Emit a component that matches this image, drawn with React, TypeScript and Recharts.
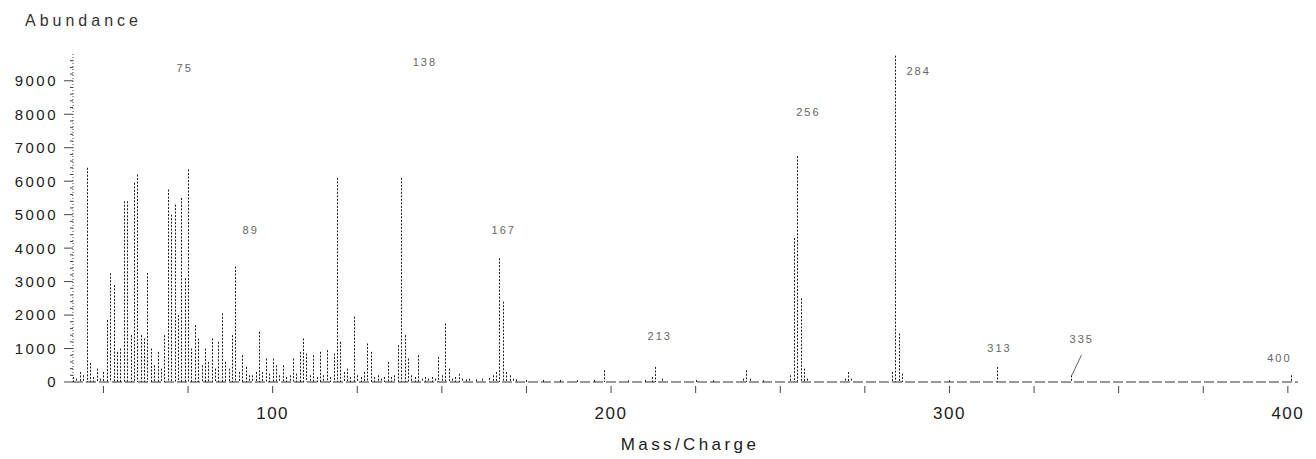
import React from 'react'
import { ComposedChart, Bar, Scatter, XAxis, YAxis } from 'recharts'

const massCharge = [
  41, 42, 43, 44, 45, 46, 47, 48, 49, 50, 51, 52, 53, 54, 55, 56, 57, 58, 59, 60,
  61, 62, 63, 64, 65, 66, 67, 68, 69, 70, 71, 72, 73, 74, 75, 76, 77, 78, 79, 80,
  81, 82, 83, 84, 85, 86, 87, 88, 89, 90, 91, 92, 93, 94, 95, 96, 97, 98, 99, 100,
  101, 102, 103, 104, 105, 106, 107, 108, 109, 110, 111, 112, 113, 114, 115, 116, 117, 118, 119, 120,
  121, 122, 123, 124, 125, 126, 127, 128, 129, 130, 131, 132, 133, 134, 135, 136, 137, 138, 139, 140,
  141, 142, 143, 144, 145, 146, 147, 148, 149, 150, 151, 152, 153, 154, 155, 156, 157, 158, 160, 162,
  164, 165, 166, 167, 168, 169, 170, 171, 172, 175, 180, 185, 190, 195, 198, 205, 210, 212, 213, 215,
  225, 230, 239, 240, 241, 245, 253, 254, 255, 256, 257, 258, 269, 270, 271, 283, 284, 285, 286, 300,
  314, 336, 401,
]
const abundance = [
  150, 100, 300, 200, 6400, 570, 150, 400, 100, 300, 1850, 3250, 2900, 900, 1000, 5400, 5400, 1400, 5950, 6200,
  1400, 1300, 3260, 1000, 500, 900, 400, 1400, 5750, 5000, 5300, 2000, 5500, 3100, 6350, 1000, 1700, 1300, 500, 1000,
  600, 1300, 400, 1200, 2050, 600, 400, 1400, 3450, 300, 800, 450, 200, 200, 300, 1500, 300, 700, 250, 700,
  500, 200, 500, 150, 200, 700, 250, 900, 1300, 850, 200, 800, 150, 900, 200, 950, 150, 850, 6100, 1200,
  300, 400, 150, 1950, 200, 150, 300, 1150, 900, 150, 200, 100, 150, 600, 150, 200, 1100, 6100, 1400, 700,
  200, 150, 800, 100, 150, 100, 150, 100, 750, 200, 1750, 400, 100, 150, 250, 100, 80, 100, 80, 100,
  120, 200, 300, 3700, 2400, 300, 200, 100, 80, 60, 60, 60, 50, 60, 350, 50, 60, 150, 450, 100,
  60, 50, 100, 350, 100, 50, 200, 4300, 6750, 2500, 400, 100, 100, 300, 100, 300, 9750, 1450, 250, 50,
  450, 200, 200,
]

// peak annotations: text, m/z where it starts, abundance of its baseline
const tagText = ['75', '89', '138', '167', '213', '256', '284', '313', '335', '400']
const tagMz = [71.6, 91.1, 141.4, 164.7, 210.8, 254.7, 287.3, 311.2, 335.5, 393.9]
const tagAt = [9250, 4420, 9450, 4420, 1250, 7950, 9170, 900, 1170, 600]

const xTicks = [50, 75, 100, 125, 150, 175, 200, 225, 250, 275, 300, 325, 350, 375, 400]
const xLabels = [100, 200, 300, 400]
const yLabels = [0, 1000, 2000, 3000, 4000, 5000, 6000, 7000, 8000, 9000]
const yTicks = Array.from({ length: 49 }, (_, i) => i * 200)

const spectrum = massCharge.map((mz, i) => ({ mz, abundance: abundance[i] }))
const tags = tagText.map((text, i) => ({ mz: tagMz[i], at: tagAt[i], text }))

const font = '"Liberation Sans", Arial, sans-serif'
const ink = '#1c1c1c'

const PeakLine = (p: any) => {
  if (!p.height) return null
  const x = Math.round(p.x + p.width / 2) + 0.5
  return <line x1={x} x2={x} y1={p.y} y2={p.y + p.height} stroke={ink} strokeWidth={1} strokeDasharray="2 1.5" />
}

const PeakTag = (p: any) => {
  const { cx, cy, payload } = p
  return (
    <g>
      <text x={cx} y={cy} fontSize={11} fill="#666" letterSpacing={2} fontFamily={font}>{payload.text}</text>
      {payload.text === '335' && <line x1={cx + 12} y1={cy + 12} x2={cx + 2} y2={cy + 33} stroke="#666" />}
    </g>
  )
}

const YTick = ({ x, y, payload }: any) => {
  const v = payload.value
  const major = yLabels.includes(v)
  return (
    <g>
      <line x1={x - (major ? 9 : 3)} x2={x} y1={y} y2={y} stroke="#444" />
      {major && (
        <text x={x - 15} y={y} dy="0.36em" textAnchor="end" fontSize={15} letterSpacing={2.5} fill={ink} fontFamily={font}>{v}</text>
      )}
    </g>
  )
}

const XTick = ({ x, y, payload }: any) => {
  const v = payload.value
  return (
    <g>
      <line x1={x} x2={x} y1={y + 4} y2={y + 11} stroke="#444" />
      {xLabels.includes(v) && (
        <text x={x} y={y + 37} textAnchor="middle" fontSize={17} letterSpacing={1.5} fill={ink} fontFamily={font}>{v}</text>
      )}
    </g>
  )
}

export default function App() {
  return (
    <div style={{ position: 'absolute', left: 0, top: 0, width: 1316, height: 459, background: '#fff', fontFamily: font }}>
      <div style={{ position: 'absolute', left: 25, top: 13, fontSize: 16, lineHeight: 1, letterSpacing: 4, color: '#333' }}>Abundance</div>
      <ComposedChart width={1316} height={459} data={spectrum} margin={{ top: 54, right: 18, left: 0, bottom: 0 }}>
        <XAxis dataKey="mz" type="number" domain={[41, 403]} ticks={xTicks} interval={0} height={77}
          axisLine={{ stroke: '#333', strokeDasharray: '10 3' }} tickLine={false} tickSize={0} tickMargin={0}
          tick={<XTick />} allowDataOverflow />
        <YAxis type="number" domain={[0, 9800]} ticks={yTicks} interval={0} width={73}
          axisLine={{ stroke: '#444', strokeDasharray: '1 2' }} tickLine={false} tickSize={0} tickMargin={0}
          tick={<YTick />} allowDataOverflow />
        <Bar dataKey="abundance" barSize={1} shape={<PeakLine />} isAnimationActive={false} />
        <Scatter data={tags} dataKey="at" shape={<PeakTag />} isAnimationActive={false} />
      </ComposedChart>
      <div style={{ position: 'absolute', left: 690, top: 436, transform: 'translateX(-50%)', fontSize: 17, lineHeight: 1, letterSpacing: 3.4, color: ink, whiteSpace: 'nowrap' }}>Mass/Charge</div>
    </div>
  )
}
